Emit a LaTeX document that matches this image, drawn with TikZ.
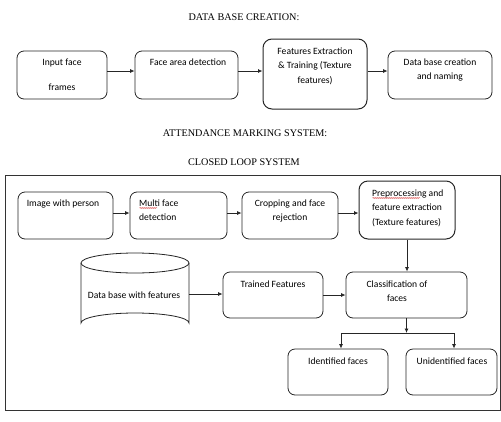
\documentclass[tikz,border=0pt]{standalone}
\usepackage{fontspec}
\setmainfont{Liberation Serif}
\newfontfamily\boxfont{Carlito}
\usetikzlibrary{arrows.meta,decorations.pathmorphing}
\begin{document}
\begin{tikzpicture}[x=1pt,y=-1pt,
  stepbox/.style={draw=black!85,line width=0.8pt,rounded corners=7pt,inner sep=0pt},
  thickbox/.style={stepbox,line width=1.0pt,rounded corners=9pt},
  txt/.style={font=\boxfont\fontsize{9.6}{14.5}\selectfont,inner sep=0pt,anchor=north,align=center},
  ltxt/.style={txt,anchor=north west,align=left},
  ttl/.style={font=\fontsize{10.2}{12}\selectfont,inner sep=0pt},
  arr/.style={draw=black!85,line width=0.8pt,-{Latex[length=4.5pt,width=4pt]}},
  ln/.style={draw=black!85,line width=0.8pt},
  spell/.style={draw=red!80!black,line width=0.3pt,decorate,decoration={snake,amplitude=0.5pt,segment length=2pt}}]
\useasboundingbox (0,0) rectangle (501,421);
% titles
\node[ttl] (t1) at (244,17) {DATA BASE CREATION:};
\node[ttl] (t2) at (245,133) {ATTENDANCE MARKING SYSTEM:};
\node[ttl] (t3) at (244,162) {CLOSED LOOP SYSTEM};
% top row
\node[stepbox,minimum width=90pt,minimum height=48pt] (b1) at (62,75) {};
\node[stepbox,minimum width=103pt,minimum height=48pt] (b2) at (186.5,75) {};
\node[thickbox,minimum width=104pt,minimum height=70pt] (b3) at (315,74) {};
\node[stepbox,minimum width=104pt,minimum height=48pt] (b4) at (440,75) {};
\node[txt] (b1t) at (62,58.5) {Input face\\[10.5pt]frames};
\node[txt] (b2t) at (188,58.5) {Face area detection};
\node[txt] (b3t) at (315,47.5) {Features Extraction\\\& Training (Texture\\features)};
\node[txt] (b4t) at (440,58.5) {Data base creation\\and naming};
\draw[arr] ([yshift=4pt]b1.east) -- ([yshift=4pt]b2.west);
\draw[arr] ([yshift=4pt]b2.east) -- ([yshift=3pt]b3.west);
\draw[arr] ([yshift=3pt]b3.east) -- ([yshift=4pt]b4.west);
% frame
\node[draw=black!80,line width=0.8pt,minimum width=495pt,minimum height=235pt,inner sep=0pt] (frame) at (252.5,292.5) {};
% bottom rows
\node[stepbox,minimum width=95pt,minimum height=47pt] (a) at (65.5,215.5) {};
\node[stepbox,minimum width=97pt,minimum height=47pt] (b) at (178.5,215.5) {};
\node[stepbox,minimum width=96pt,minimum height=47pt] (c) at (290,215.5) {};
\node[thickbox,minimum width=96pt,minimum height=58pt] (d) at (407,210) {};
\node[txt] (at) at (63,199.5) {Image with person};
\node[ltxt] (bt) at (139,199.5) {Multi face\\detection};
\node[txt] (ct) at (290,199.5) {Cropping and face\\rejection};
\node[ltxt] (dt) at (372,189.5) {Preprocessing and\\feature extraction\\(Texture features)};
\draw[spell] (139.5,208) -- (157,208);
\draw[spell] (372.5,198) -- (420,198);
\draw[arr] ([yshift=2.5pt]a.east) -- ([yshift=2.5pt]b.west);
\draw[arr] ([yshift=2.5pt]b.east) -- ([yshift=2.5pt]c.west);
\draw[arr] ([yshift=2.5pt]c.east) -- ([yshift=2.5pt]c.east -| d.west);
% cylinder
\draw[ln] (81,263) -- (81,323) arc[start angle=180,end angle=360,x radius=54,y radius=10] -- (189,263);
\draw[ln] (135,263) ellipse[x radius=54,y radius=10];
\node[inner sep=0pt,minimum width=108pt,minimum height=2pt] (cyl) at (135,294) {};
\node[txt] (cylt) at (134,291.5) {Data base with features};
\node[stepbox,minimum width=100pt,minimum height=46pt] (tf) at (273,295) {};
\node[stepbox,minimum width=121pt,minimum height=46pt] (cls) at (406.5,295) {};
\node[txt] (tft) at (273,280.5) {Trained Features};
\node[txt] (clst) at (397,280.5) {Classification of\\faces};
\draw[arr] (cyl.east) -- (cyl.east -| tf.west);
\draw[arr] (tf.east) -- (cls.west);
\draw[arr] (d.south) -- (d.south |- cls.north);
\coordinate (split) at (406.5,333);
\draw[arr] (cls.south) -- (split);
\node[stepbox,minimum width=100pt,minimum height=46pt] (idf) at (338,372) {};
\node[stepbox,minimum width=91pt,minimum height=46pt] (uid) at (451.5,372) {};
\node[txt] (idft) at (338,357.5) {Identified faces};
\node[txt] (uidt) at (452,357.5) {Unidentified faces};
\coordinate (sl) at (341,333);
\coordinate (sr) at (454,333);
\draw[ln] (sl) -- (sr);
\draw[arr] (sl) -- (sl |- idf.north);
\draw[arr] (sr) -- (sr |- uid.north);
\end{tikzpicture}
\end{document}
